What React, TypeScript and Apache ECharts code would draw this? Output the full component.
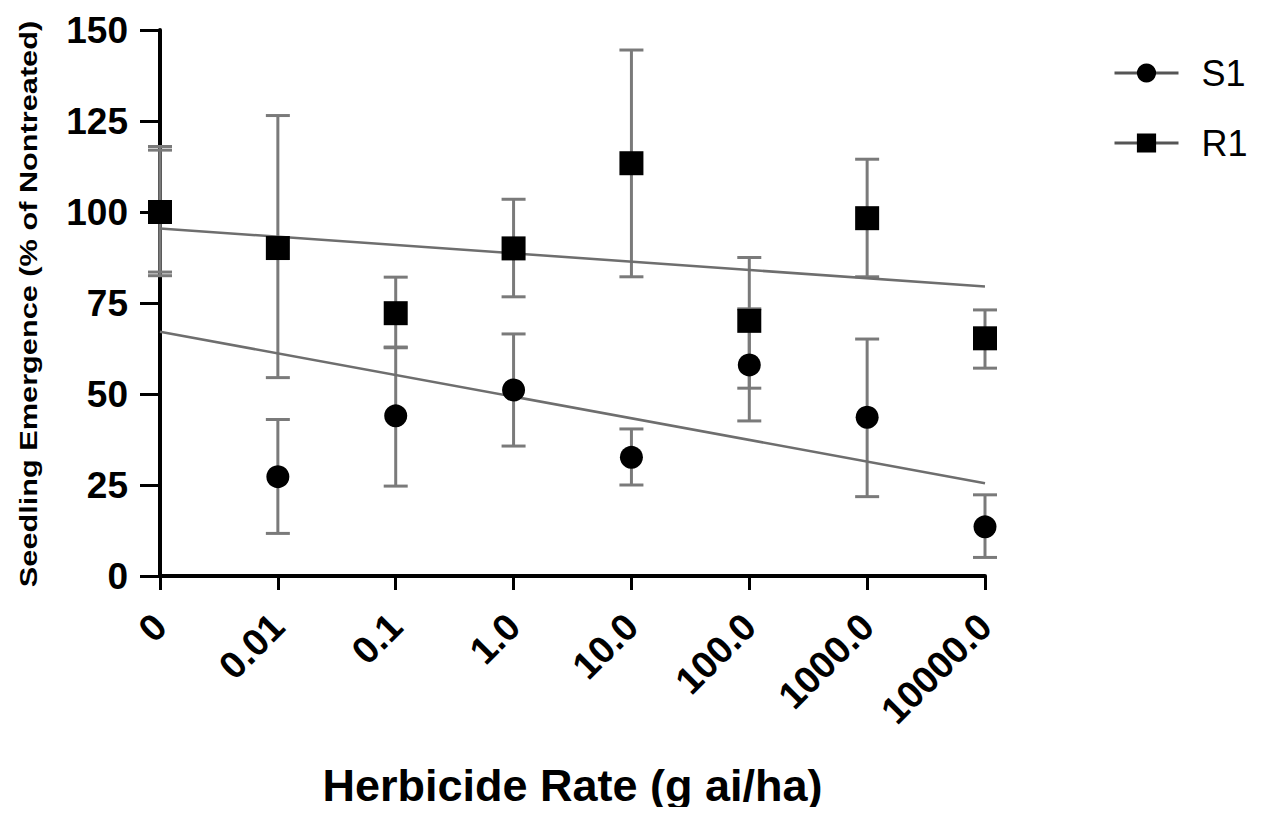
import React, { useEffect, useRef } from "react";
import * as echarts from "echarts";

const rates = ["0", "0.01", "0.1", "1.0", "10.0", "100.0", "1000.0", "10000.0"];
const yTicks = [0, 25, 50, 75, 100, 125, 150];

const s1Mean = [100, 27.3, 44.0, 51.1, 32.6, 58.0, 43.6, 13.5];
const s1Low = [82.5, 11.7, 24.7, 35.7, 25.0, 42.6, 21.8, 5.1];
const s1High = [118, 43.0, 62.7, 66.5, 40.4, 73.4, 65.1, 22.3];

const r1Mean = [100, 90.1, 72.2, 90.0, 113.4, 70.1, 98.3, 65.3];
const r1Low = [83.5, 54.5, 62.9, 76.7, 82.2, 51.6, 82.2, 57.1];
const r1High = [117, 126.5, 82.1, 103.5, 144.5, 87.5, 114.5, 73.1];

const s1TrendX = [0, 7];
const s1TrendY = [67.1, 25.5];
const r1TrendX = [0, 7];
const r1TrendY = [95.5, 79.5];

const yAxisTitle = "Seedling Emergence (% of Nontreated)";
const xAxisTitle = "Herbicide Rate (g ai/ha)";

const FONT = "Liberation Sans, Arial, sans-serif";

function errorSeries(name: string, low: number[], high: number[]) {
  return {
    type: "custom",
    name,
    z: 2,
    silent: true,
    data: low.map((l, i) => [i, l, high[i]]),
    encode: { x: 0, y: [1, 2] },
    renderItem: (params: any, api: any) => {
      const x = api.value(0);
      const top = api.coord([x, api.value(2)]);
      const bot = api.coord([x, api.value(1)]);
      const hw = 12;
      const style = { stroke: "#7a7a7a", lineWidth: 3 };
      return {
        type: "group",
        children: [
          { type: "line", shape: { x1: top[0], y1: top[1], x2: bot[0], y2: bot[1] }, style },
          { type: "line", shape: { x1: top[0] - hw, y1: top[1], x2: top[0] + hw, y2: top[1] }, style },
          { type: "line", shape: { x1: bot[0] - hw, y1: bot[1], x2: bot[0] + hw, y2: bot[1] }, style },
        ],
      };
    },
  };
}

export default function App() {
  const ref = useRef<HTMLDivElement>(null);
  useEffect(() => {
    if (!ref.current) return;
    const chart = echarts.init(ref.current, undefined, { renderer: "svg" });
    chart.setOption({
      animation: false,
      backgroundColor: "#ffffff",
      textStyle: { fontFamily: FONT },
      grid: {
        left: 160,
        right: 284,
        top: 30,
        bottom: 239,
        containLabel: false,
        outerBoundsMode: "none",
      },
      graphic: [
        {
          type: "text",
          x: 29,
          y: 304,
          rotation: Math.PI / 2,
          scaleX: 1.28,
          style: {
            text: yAxisTitle,
            font: `bold 24px ${FONT}`,
            fill: "#000",
            textAlign: "center",
            textVerticalAlign: "middle",
          },
        },
      ],
      legend: {
        data: ["S1", "R1"],
        orient: "vertical",
        left: 1108,
        top: 50,
        itemWidth: 64,
        itemHeight: 24,
        itemGap: 34,
        textStyle: { fontSize: 36, color: "#000", fontFamily: FONT, padding: [0, 0, 0, 18] },
        lineStyle: { width: 3, color: "#555", opacity: 1 },
        itemStyle: { color: "#000" },
      },
      xAxis: {
        type: "value",
        min: 0,
        max: 7,
        interval: 1,
        name: xAxisTitle,
        nameLocation: "middle",
        nameGap: 187,
        nameTextStyle: { fontSize: 45, fontWeight: "bold", color: "#000", fontFamily: FONT },
        axisLine: { show: true, onZero: false, lineStyle: { color: "#000", width: 4 } },
        axisTick: { show: true, length: 14, lineStyle: { color: "#000", width: 3 } },
        axisLabel: {
          rotate: 45,
          margin: 44,
          fontSize: 38,
          fontWeight: "bold",
          color: "#000",
          fontFamily: FONT,
          formatter: (v: number) => rates[Math.round(v)] ?? "",
        },
        splitLine: { show: false },
      },
      yAxis: {
        type: "value",
        min: 0,
        max: 150,
        interval: 25,
        axisLine: { show: true, lineStyle: { color: "#000", width: 4 } },
        axisTick: { show: true, length: 20, lineStyle: { color: "#000", width: 3 } },
        axisLabel: {
          margin: 32,
          fontSize: 37,
          fontWeight: "bold",
          color: "#000",
          fontFamily: FONT,
          formatter: (v: number) => (yTicks.includes(v) ? String(v) : ""),
        },
        splitLine: { show: false },
      },
      series: [
        errorSeries("S1 err", s1Low, s1High),
        errorSeries("R1 err", r1Low, r1High),
        {
          type: "line",
          name: "S1 fit",
          z: 3,
          silent: true,
          symbol: "none",
          data: s1TrendX.map((x, i) => [x, s1TrendY[i]]),
          lineStyle: { color: "#6e6e6e", width: 2.5 },
        },
        {
          type: "line",
          name: "R1 fit",
          z: 3,
          silent: true,
          symbol: "none",
          data: r1TrendX.map((x, i) => [x, r1TrendY[i]]),
          lineStyle: { color: "#6e6e6e", width: 2.5 },
        },
        {
          type: "line",
          name: "S1",
          z: 4,
          symbol: "circle",
          symbolSize: 23,
          data: s1Mean.map((v, i) => [i, v]),
          itemStyle: { color: "#000" },
          lineStyle: { width: 0, opacity: 0 },
        },
        {
          type: "line",
          name: "R1",
          z: 5,
          symbol: "rect",
          symbolSize: 24,
          data: r1Mean.map((v, i) => [i, v]),
          itemStyle: { color: "#000" },
          lineStyle: { width: 0, opacity: 0 },
        },
      ],
    });
    return () => chart.dispose();
  }, []);
  return <div ref={ref} style={{ width: 1269, height: 815, margin: -8 }} />;
}
